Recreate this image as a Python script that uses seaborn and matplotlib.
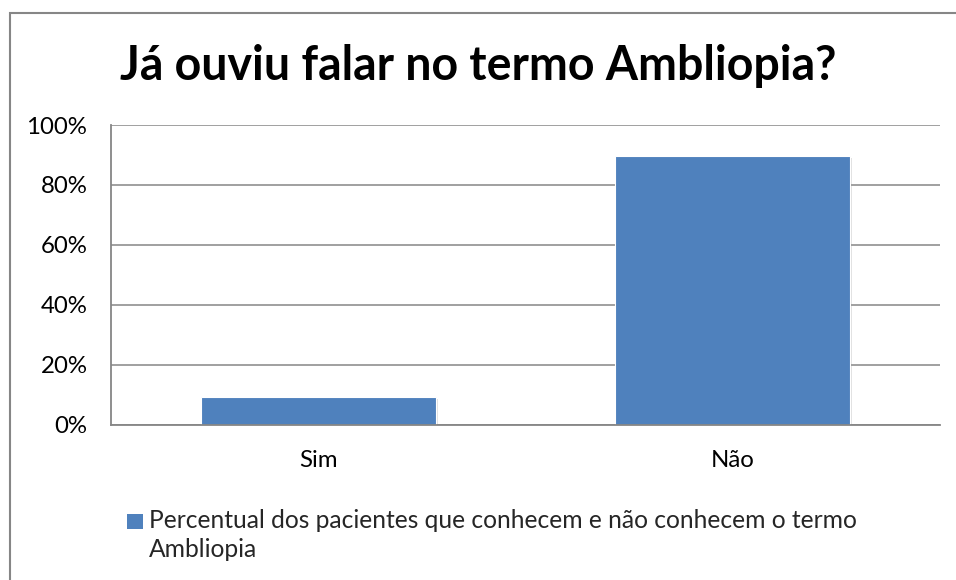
import matplotlib
matplotlib.use("Agg")
import matplotlib.pyplot as plt
import seaborn as sns
import pandas as pd
from matplotlib.patches import Rectangle, Patch
from matplotlib.ticker import FuncFormatter
import matplotlib.patheffects as pe

categories = ["Sim", "Não"]
values = [9.4, 89.6]
series_name = "Percentual dos pacientes que conhecem e não conhecem o termo\nAmbliopia"
title = "Já ouviu falar no termo Ambliopia?"
yticks = [0, 20, 40, 60, 80, 100]

sns.set_theme(style="white")
plt.rcParams["font.family"] = ["Lato", "DejaVu Sans"]

BAR = "#4F81BD"
GRID = "#868686"

fig = plt.figure(figsize=(9.56, 5.8), dpi=100)
ax = fig.add_axes([111/956, 1-424.7/580, 829/956, 299.7/580])

df = pd.DataFrame({"cat": categories, "val": values})
sns.barplot(data=df, x="cat", y="val", color=BAR, saturation=1, width=0.567,
            edgecolor="white", linewidth=0.8, ax=ax)
for p in ax.patches:
    p.set_path_effects([pe.SimplePatchShadow(offset=(1.5, -1.5), alpha=0.25, shadow_rgbFace="#888888"), pe.Normal()])

ax.set_ylim(0, 100)
ax.set_yticks(yticks)
ax.yaxis.set_major_formatter(FuncFormatter(lambda v, _: f"{int(v)}%"))
ax.set_xlabel("")
ax.set_ylabel("")
ax.grid(axis="y", color=GRID, linewidth=1.1)
ax.set_axisbelow(True)
for s in ["top", "right"]:
    ax.spines[s].set_visible(False)
for s in ["left", "bottom"]:
    ax.spines[s].set_visible(True)
    ax.spines[s].set_color(GRID)
    ax.spines[s].set_linewidth(1.3)
ax.tick_params(axis="both", length=0, labelsize=17.3, colors="black")
ax.tick_params(axis="y", pad=17)
ax.tick_params(axis="x", pad=18)

fig.text(478/956, 1-66/580, title, ha="center", va="center",
         fontsize=33.5, fontweight="bold", color="black")

handle = Patch(facecolor=BAR, edgecolor="none")
leg = fig.legend([handle], [series_name], loc="upper left",
                 bbox_to_anchor=(115/956, 1-497/580), frameon=False,
                 fontsize=17.7, handlelength=0.62, handleheight=0.58,
                 handletextpad=0.25, labelspacing=0.2, borderpad=0)
for t in leg.get_texts():
    t.set_linespacing(1.3)
for h in leg.legend_handles:
    h.set_y(h.get_y() + 10.5)

fig.patches.append(Rectangle((9.5/956, -0.2), 2.0, 1.2 - 13/580,
                             transform=fig.transFigure, fill=False,
                             edgecolor=GRID, linewidth=1.5, zorder=0))

fig.savefig("out.png", dpi=100)
